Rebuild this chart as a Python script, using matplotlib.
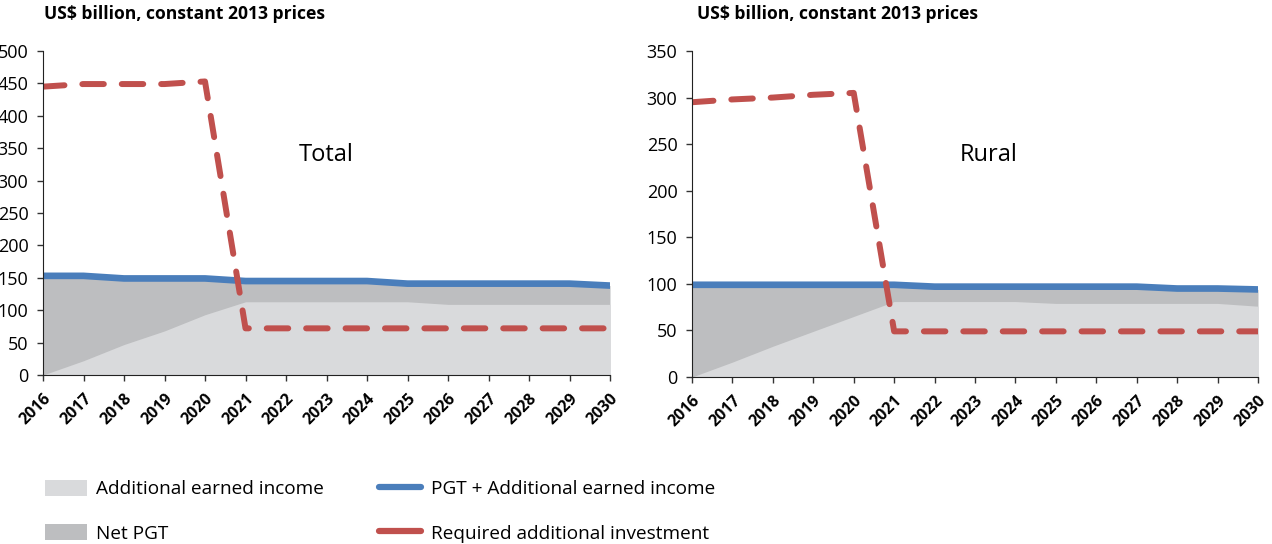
import matplotlib
matplotlib.use("Agg")
import matplotlib.pyplot as plt
import matplotlib.transforms as mtransforms
from matplotlib.patches import Patch
from matplotlib.lines import Line2D

plt.rcParams['font.family'] = ['Open Sans', 'DejaVu Sans']

years = list(range(2016, 2031))

# Total
total_sum = [153, 153, 149, 149, 149, 145, 145, 145, 145, 141, 141, 141, 141, 141, 138]
total_earned = [0, 22, 47, 68, 93, 113, 113, 113, 113, 113, 109, 109, 109, 109, 109]
total_required = [445, 449, 449, 449, 453, 72, 72, 72, 72, 72, 72, 72, 72, 72, 72]

# Rural
rural_sum = [99, 99, 99, 99, 99, 99, 97, 97, 97, 97, 97, 97, 95, 95, 94]
rural_earned = [0, 16, 33, 49, 65, 81, 81, 81, 81, 79, 79, 79, 79, 79, 76]
rural_required = [295, 298, 300, 303, 305, 49, 49, 49, 49, 49, 49, 49, 49, 49, 49]

panel_titles = ["Total", "Rural"]
unit_label = "US$ billion, constant 2013 prices"
legend_labels = ["Additional earned income", "Net PGT",
                 "PGT + Additional earned income", "Required additional investment"]

C_LIGHT = "#D9DADC"
C_DARK = "#BDBEC0"
C_BLUE = "#4A7EBB"
C_RED = "#C0504D"

W, H = 1272, 544
fig = plt.figure(figsize=(W / 100, H / 100), dpi=100)

def px_axes(x0, x1, ytop, ybot):
    return fig.add_axes([x0 / W, (H - ybot) / H, (x1 - x0) / W, (ybot - ytop) / H])

ax1 = px_axes(43, 610, 51, 375)
ax2 = px_axes(692, 1258, 51, 377)

dash = (0, (3.6, 3.0))
shift = mtransforms.ScaledTranslation(5 / 100, 0, fig.dpi_scale_trans)

def draw(ax, s, earned, req, ymax, title, tx, ty):
    ax.fill_between(years, 0, s, color=C_DARK, lw=0)
    ax.fill_between(years, 0, earned, color=C_LIGHT, lw=0)
    ax.plot(years, s, color=C_BLUE, lw=4.8, solid_capstyle='round', solid_joinstyle='round')
    ax.plot(years, req, color=C_RED, lw=4.3, linestyle=dash, dash_capstyle='round')
    ax.set_xlim(2016, 2030)
    ax.set_ylim(0, ymax)
    ax.set_yticks(range(0, ymax + 1, 50))
    ax.set_xticks(years)
    ax.set_xticklabels([str(y) for y in years], rotation=45, ha='right', va='top',
                       rotation_mode='anchor', fontweight='bold', fontsize=11.5)
    for lbl in ax.get_xticklabels():
        lbl.set_transform(lbl.get_transform() + shift)
    for lbl in ax.get_yticklabels():
        lbl.set_fontsize(13)
    ax.spines['top'].set_visible(False)
    ax.spines['right'].set_visible(False)
    ax.spines['left'].set_color('#222222')
    ax.spines['bottom'].set_color('#222222')
    ax.tick_params(axis='both', direction='out', length=4, width=1, color='#333333')
    ax.tick_params(axis='y', pad=6.5)
    ax.tick_params(axis='x', pad=7)
    ax.text(tx, ty, title, fontsize=17, ha='center', va='center')

draw(ax1, total_sum, total_earned, total_required, 500, panel_titles[0], 2023.0, 340)
draw(ax2, rural_sum, rural_earned, rural_required, 350, panel_titles[1], 2023.35, 238)

fig.text(44 / W, 1 - 14 / H, unit_label, fontsize=12.6, fontweight='bold', ha='left', va='center')
fig.text(697 / W, 1 - 14 / H, unit_label, fontsize=12.6, fontweight='bold', ha='left', va='center')

handles = [Patch(facecolor=C_LIGHT, edgecolor='none'),
           Patch(facecolor=C_DARK, edgecolor='none'),
           Line2D([0], [0], color=C_BLUE, lw=4.5, solid_capstyle='round'),
           Line2D([0], [0], color=C_RED, lw=4.5, solid_capstyle='round')]
fig.legend(handles, legend_labels, ncol=2, loc='upper left',
           bbox_to_anchor=(45 / W, 1 - 480 / H), frameon=False, fontsize=13.7,
           handlelength=2.2, handleheight=0.9, handletextpad=0.5,
           labelspacing=1.35, columnspacing=2.9, borderaxespad=0, borderpad=0)

fig.savefig("out.png", dpi=100)
